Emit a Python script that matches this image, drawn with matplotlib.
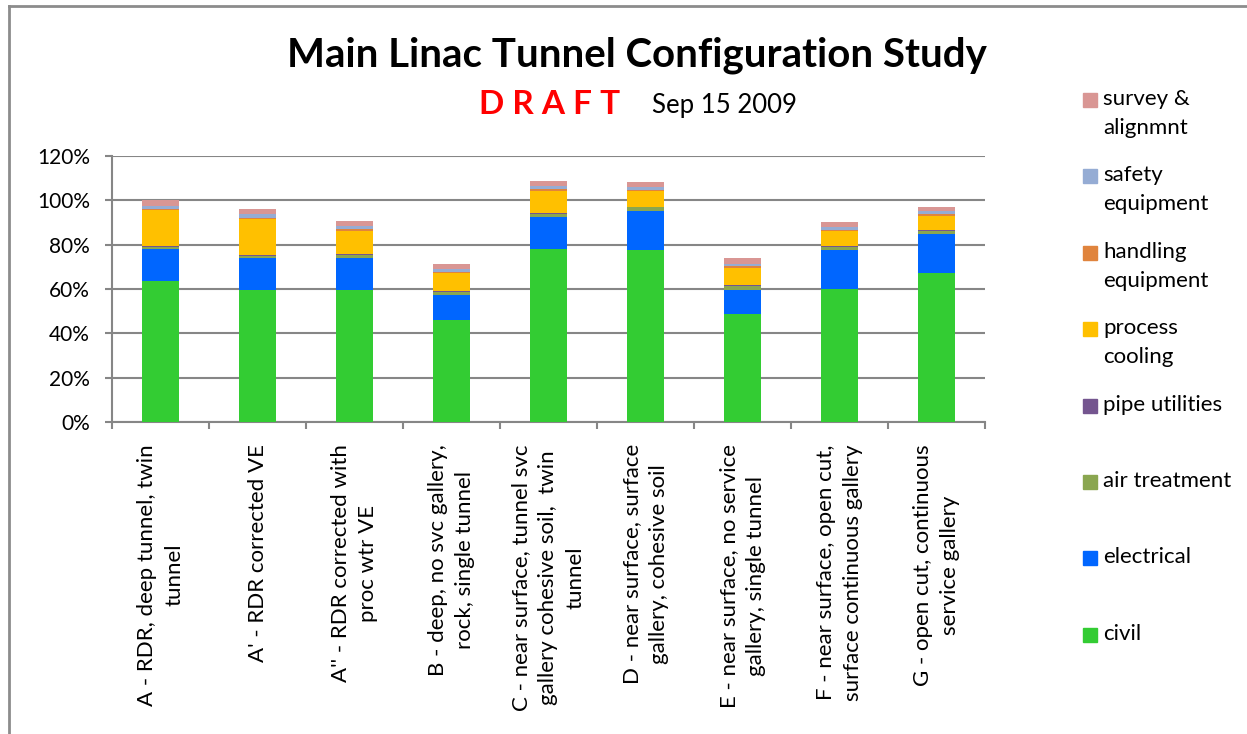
import numpy as np
import matplotlib
matplotlib.use('Agg')
import matplotlib.pyplot as plt
from matplotlib.lines import Line2D
from matplotlib.patches import Rectangle
from matplotlib.ticker import PercentFormatter

plt.rcParams['font.family'] = ['Lato', 'DejaVu Sans']

# data (percent of RDR baseline)
configs = [
    "A - RDR, deep tunnel, twin\ntunnel",
    "A' - RDR corrected VE",
    "A'' - RDR corrected with\nproc wtr VE",
    "B - deep, no svc gallery,\nrock, single tunnel",
    "C - near surface, tunnel svc\ngallery cohesive soil,  twin\ntunnel",
    "D - near surface, surface\ngallery, cohesive soil",
    "E - near surface, no service\ngallery, single tunnel",
    "F - near surface, open cut,\nsurface continuous gallery",
    "G - open cut, continuous\nservice gallery",
]
civil = [63.6, 59.5, 59.5, 46.2, 78.0, 77.5, 48.9, 59.9, 67.1]
electrical = [14.6, 14.7, 14.7, 10.9, 14.4, 17.7, 10.7, 17.6, 17.5]
air_treatment = [0.8, 0.8, 1.3, 1.5, 1.6, 1.6, 1.6, 1.5, 1.6]
pipe_utilities = [0.2, 0.2, 0.2, 0.7, 0.2, 0.2, 0.8, 0.2, 0.2]
process_cooling = [16.3, 16.4, 10.5, 7.7, 10.1, 7.3, 7.4, 6.9, 6.7]
handling_equipment = [0.6, 0.6, 1.0, 0.7, 0.8, 0.5, 0.9, 0.7, 0.7]
safety_equipment = [1.3, 1.8, 1.1, 1.2, 1.3, 1.0, 1.1, 1.1, 1.2]
survey_alignment = [2.6, 2.3, 2.4, 2.3, 2.4, 2.6, 2.4, 2.3, 2.2]

series = [
    ('civil', civil, '#33CC33'),
    ('electrical', electrical, '#0066FF'),
    ('air treatment', air_treatment, '#8AA650'),
    ('pipe utilities', pipe_utilities, '#74558F'),
    ('process\ncooling', process_cooling, '#FFC000'),
    ('handling\nequipment', handling_equipment, '#E0843D'),
    ('safety\nequipment', safety_equipment, '#95ACD4'),
    ('survey &\nalignmnt', survey_alignment, '#D99694'),
]

W, H = 1247, 734
fig = plt.figure(figsize=(W / 100, H / 100), dpi=100)

def fx(px):
    return px / W

def fy(py):
    return 1 - py / H

ax = fig.add_axes([fx(112), fy(422), fx(985) - fx(112), fy(156) - fy(422)])

x = np.arange(len(configs))
bottom = np.zeros(len(configs))
for name, vals, col in series:
    v = np.array(vals) / 100
    ax.bar(x, v, width=0.39, bottom=bottom, color=col, linewidth=0, zorder=3)
    bottom += v

grid_col = '#868686'
ax.set_ylim(0, 1.2)
ax.set_xlim(-0.5, len(configs) - 0.5)
ax.set_yticks(np.arange(0, 1.21, 0.2))
ax.yaxis.set_major_formatter(PercentFormatter(1.0, decimals=0))
ax.yaxis.grid(True, color=grid_col, linewidth=1.5, zorder=0)
ax.set_xticks(x)
ax.set_xticklabels(configs, rotation=90, ha='center', va='top',
                   multialignment='center', linespacing=1.45)
ax.set_xticks(np.arange(-0.5, len(configs)), minor=True)
ax.tick_params(axis='x', which='major', length=0, pad=16, labelsize=16)
ax.tick_params(axis='x', which='minor', length=5, width=1.5, color=grid_col, direction='out')
ax.tick_params(axis='y', length=5, width=1.5, color=grid_col, pad=11, labelsize=15)
for s in ['top', 'right']:
    ax.spines[s].set_visible(False)
for s in ['left', 'bottom']:
    ax.spines[s].set_color(grid_col)
    ax.spines[s].set_linewidth(1.5)

# titles
fig.text(fx(637), fy(55), 'Main Linac Tunnel Configuration Study', ha='center', va='center',
         fontsize=29, fontweight='bold')
fig.text(fx(550), fy(104), 'D R A F T', ha='center', va='center', color='#FF0000',
         fontsize=24, fontweight='bold')
fig.text(fx(725), fy(106), 'Sep 15 2009', ha='center', va='center', fontsize=18.5)

# legend (top entry first)
for i, (name, vals, col) in enumerate(series[::-1]):
    yc = 100 + 76.4 * i
    fig.patches.append(Rectangle((fx(1083), fy(yc + 7)), fx(14), 14 / H, color=col,
                                 transform=fig.transFigure, figure=fig))
    fig.text(fx(1103), fy(yc - 11), name, ha='left', va='top', fontsize=16,
             linespacing=1.55)

# chart border
fig.add_artist(Line2D([fx(8.5), fx(8.5)], [0, fy(6)], color='#8C8C8C', linewidth=2))
fig.add_artist(Line2D([fx(8.5), 1], [fy(6), fy(6)], color='#8C8C8C', linewidth=2))

fig.savefig('out.png', dpi=100)
